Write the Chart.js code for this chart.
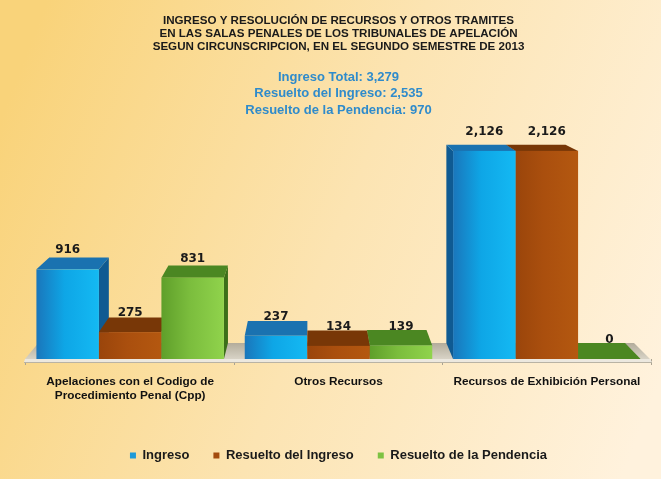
<!DOCTYPE html>
<html><head><meta charset="utf-8">
<script src="https://cdn.jsdelivr.net/npm/chart.js@4"></script>
<style>html,body{margin:0;padding:0;background:#fde8b8;overflow:hidden}</style>
</head><body>
<canvas id="c" width="661" height="479"></canvas>
<script>
const categories = [['Apelaciones con el Codigo de', 'Procedimiento Penal (Cpp)'], 'Otros Recursos', 'Recursos de Exhibición Personal'];
const seriesNames = ['Ingreso', 'Resuelto del Ingreso', 'Resuelto de la Pendencia'];
const ingreso = [916, 237, 2126];
const resueltoIngreso = [275, 134, 2126];
const resueltoPendencia = [831, 139, 0];
const titleLines = [
  'INGRESO Y RESOLUCIÓN DE RECURSOS Y OTROS TRAMITES',
  'EN LAS SALAS PENALES DE LOS TRIBUNALES DE APELACIÓN',
  'SEGUN CIRCUNSCRIPCION, EN EL SEGUNDO SEMESTRE DE 2013'
];
const subtitleLines = ['Ingreso Total: 3,279', 'Resuelto del Ingreso: 2,535', 'Resuelto de la Pendencia: 970'];

const palettes = [
  {legend:'#1f9ad8', frontL:'#1a76bb', frontM:'#0ea6e6', frontR:'#14b9f3', top:'#1a72b0', side:'#0f5a92'},
  {legend:'#a44c0e', frontL:'#9a450b', frontM:'#aa4f0e', frontR:'#b45810', top:'#783707', side:'#662e06'},
  {legend:'#7dc242', frontL:'#5f9f2a', frontM:'#7bbd3d', frontR:'#90d34c', top:'#4b8722', side:'#3c6f19'}
];

const VP = {x: 310, y: 20, s: 0.047};
function back(x, y) { return [x + VP.s * (VP.x - x), y + VP.s * (VP.y - y)]; }
function poly(ctx, pts, fill) {
  ctx.beginPath();
  ctx.moveTo(pts[0][0], pts[0][1]);
  for (let k = 1; k < pts.length; k++) ctx.lineTo(pts[k][0], pts[k][1]);
  ctx.closePath();
  ctx.fillStyle = fill;
  ctx.fill();
}

const bgPlugin = {
  id: 'bg',
  beforeDraw(chart) {
    const {ctx, width, height} = chart;
    const g = ctx.createLinearGradient(0, 120, width, 380);
    g.addColorStop(0, '#f9d37a');
    g.addColorStop(0.5, '#fce4b2');
    g.addColorStop(1, '#fff2dd');
    ctx.save();
    ctx.fillStyle = g;
    ctx.fillRect(0, 0, width, height);
    ctx.restore();
  }
};

const bars3d = {
  id: 'bars3d',
  afterDatasetsDraw(chart) {
    const ctx = chart.ctx;
    const area = chart.chartArea;
    const base = chart.scales.y.getPixelForValue(0);
    ctx.save();
    // floor
    const fl = area.left - 1, fr = area.right - 1;
    const [blx, bly] = back(fl, base), [brx, bry] = back(fr, base);
    const fg = ctx.createLinearGradient(0, bly, 0, base);
    fg.addColorStop(0, '#b3ac9b');
    fg.addColorStop(1, '#d8d3c6');
    poly(ctx, [[fl, base], [fr, base], [brx, bry], [blx, bly]], fg);
    poly(ctx, [[fl, base], [fr, base], [fr + 2, base + 3], [fl - 1, base + 3]], '#ece8df');
    ctx.fillStyle = '#b9b3a4';
    ctx.fillRect(fl - 1, base + 3, fr - fl + 3, 1);

    const items = [];
    chart.data.datasets.forEach((ds, di) => {
      const meta = chart.getDatasetMeta(di);
      if (!chart.isDatasetVisible(di)) return;
      meta.data.forEach((el, i) => items.push({el, di, i}));
    });
    items.sort((a, b) => Math.abs(b.el.x - VP.x) - Math.abs(a.el.x - VP.x));
    items.forEach(({el, di}) => {
      const p = palettes[di];
      const L = el.x - el.width / 2, R = el.x + el.width / 2;
      const T = Math.min(el.y, el.base), B = el.base;
      const tl = back(L, T), tr = back(R, T), bl = back(L, B), br = back(R, B);
      if (el.x < VP.x) {
        poly(ctx, [[R, T], tr, br, [R, B]], p.side);
      } else {
        poly(ctx, [[L, T], tl, bl, [L, B]], p.side);
      }
      poly(ctx, [[L, T], [R, T], tr, tl], p.top);
      if (B - T > 0.5) {
        const g = ctx.createLinearGradient(L, 0, R, 0);
        g.addColorStop(0, p.frontL);
        g.addColorStop(0.45, p.frontM);
        g.addColorStop(1, p.frontR);
        ctx.fillStyle = g;
        ctx.fillRect(L, T, R - L, B - T);
      }
    });
    // value labels
    ctx.font = 'bold 12px "DejaVu Sans", sans-serif';
    ctx.fillStyle = '#1a1a1a';
    ctx.textAlign = 'center';
    ctx.textBaseline = 'middle';
    items.forEach(({el, di, i}) => {
      const v = chart.data.datasets[di].data[i];
      ctx.fillText(v.toLocaleString('en-US'), el.x, Math.min(el.y, el.base) - 19);
    });
    ctx.restore();
  }
};

const chart = new Chart(document.getElementById('c'), {
  type: 'bar',
  data: {
    labels: categories,
    datasets: [
      {label: seriesNames[0], data: ingreso},
      {label: seriesNames[1], data: resueltoIngreso},
      {label: seriesNames[2], data: resueltoPendencia}
    ].map(d => Object.assign(d, {backgroundColor: 'rgba(0,0,0,0)', borderWidth: 0, categoryPercentage: 0.9, barPercentage: 1}))
  },
  options: {
    responsive: false,
    animation: false,
    devicePixelRatio: 1,
    layout: {padding: {left: 26, right: 10, top: 0, bottom: 7}},
    scales: {
      y: {display: false, min: 0, max: 2460},
      x: {
        grid: {display: true, drawOnChartArea: false, drawTicks: true, tickLength: 6, color: '#aaa392', offset: true},
        border: {display: false},
        ticks: {color: '#111', padding: 10, maxRotation: 0, autoSkip: false,
          font: {family: '"Liberation Sans", Arial, sans-serif', size: 11.8, weight: 'bold', lineHeight: 1.2}},
        afterFit(scale) { scale.height = 66; }
      }
    },
    plugins: {
      title: {display: true, text: titleLines, color: '#1a1a1a', padding: {top: 14, bottom: 15},
        font: {family: '"Liberation Sans", Arial, sans-serif', size: 11.6, weight: 'bold', lineHeight: 1.14}},
      subtitle: {display: true, text: subtitleLines, color: '#2f8bcb', padding: {top: 0, bottom: 0},
        font: {family: '"Liberation Sans", Arial, sans-serif', size: 13, weight: 'bold', lineHeight: 1.27}},
      legend: {
        position: 'bottom',
        labels: {
          boxWidth: 6, boxHeight: 6, padding: 24, color: '#1a1a1a',
          font: {family: '"Liberation Sans", Arial, sans-serif', size: 13, weight: 'bold'},
          generateLabels(chart) {
            const items = Chart.defaults.plugins.legend.labels.generateLabels(chart);
            items.forEach((it, k) => { it.fillStyle = palettes[k].legend; it.strokeStyle = palettes[k].legend; it.lineWidth = 0; });
            return items;
          }
        }
      },
      tooltip: {enabled: false}
    }
  },
  plugins: [bgPlugin, bars3d]
});
</script>
</body></html>
